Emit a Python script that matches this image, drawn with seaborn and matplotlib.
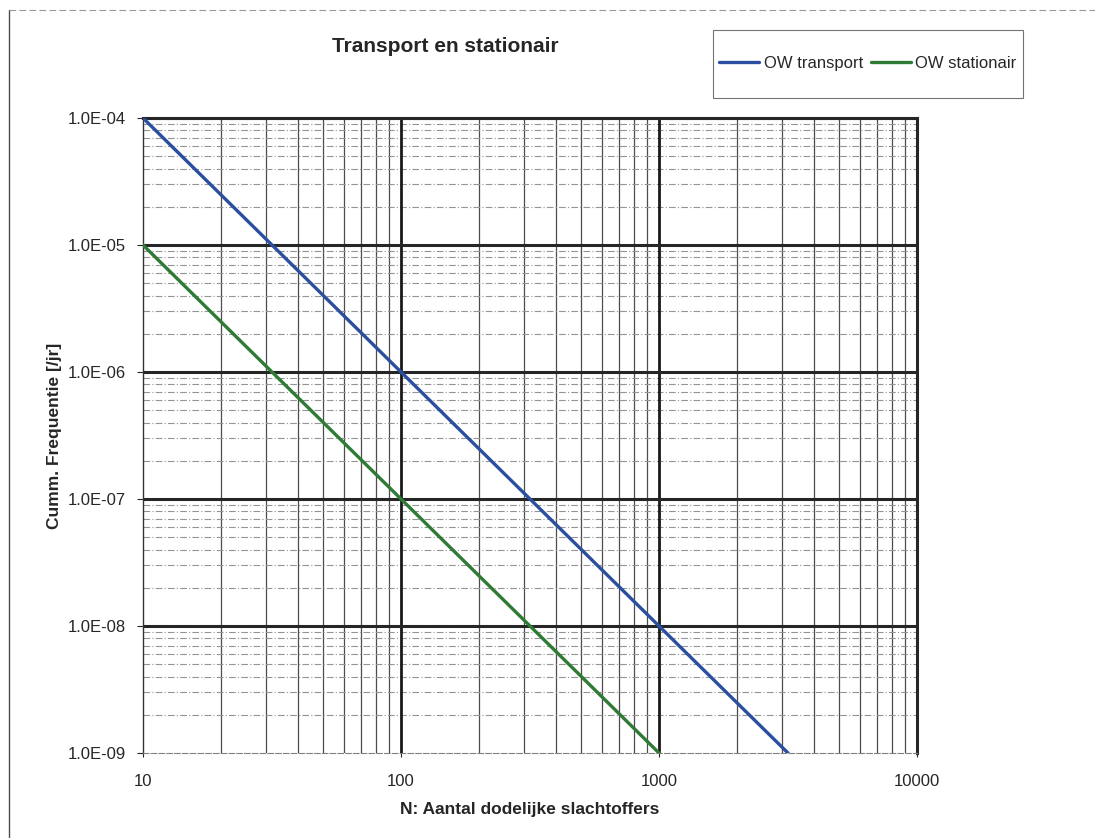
import numpy as np
import pandas as pd
import matplotlib
matplotlib.use("Agg")
import matplotlib.pyplot as plt
from matplotlib.patches import Rectangle
from matplotlib.lines import Line2D
from matplotlib.ticker import FixedLocator, NullFormatter
import seaborn as sns

# Data (end points of the straight lines on log-log axes)
n_transport = [10, 3162]
f_transport = [1e-4, 1e-9]
n_stationair = [10, 1000]
f_stationair = [1e-5, 1e-9]
series_names = ["OW transport", "OW stationair"]
series_colors = ["#2b4f9e", "#2f7a34"]

x_ticks = [10, 100, 1000, 10000]
x_tick_labels = ["10", "100", "1000", "10000"]
y_ticks = [1e-9, 1e-8, 1e-7, 1e-6, 1e-5, 1e-4]
y_tick_labels = ["1.0E-09", "1.0E-08", "1.0E-07", "1.0E-06", "1.0E-05", "1.0E-04"]

df = pd.concat([
    pd.DataFrame({"N": n_transport, "F": f_transport, "serie": series_names[0]}),
    pd.DataFrame({"N": n_stationair, "F": f_stationair, "serie": series_names[1]}),
])

sns.set_style("white")
plt.rcParams["font.family"] = ["Liberation Sans", "DejaVu Sans"]

W, H = 1095, 838
fig = plt.figure(figsize=(W / 100, H / 100), dpi=100)
ax = fig.add_axes([143 / W, 1 - 753 / H, (917 - 143) / W, (753 - 118) / H])

ax.set_xscale("log")
ax.set_yscale("log")
ax.set_xlim(10, 10000)
ax.set_ylim(1e-9, 1e-4)

# Minor grid: vertical solid, horizontal dashed
minor_x = [m * 10 ** e for e in range(1, 4) for m in range(2, 10)]
minor_y = [m * 10.0 ** e for e in range(-9, -4) for m in range(2, 10)]
for xv in minor_x:
    ax.axvline(xv, color="0.3", lw=0.9, zorder=1)
for yv in minor_y:
    ax.axhline(yv, color="0.58", lw=0.8, ls=(0, (6, 2, 1, 2)), zorder=1)
# Major grid: thick black
for xv in x_ticks[1:]:
    ax.axvline(xv, color="0.1", lw=2.0, zorder=1.5)
for yv in y_ticks[1:]:
    ax.axhline(yv, color="0.15", lw=2.2, zorder=1.5)

sns.lineplot(data=df, x="N", y="F", hue="serie", palette=series_colors,
             linewidth=2.4, legend=False, ax=ax, zorder=3)

ax.xaxis.set_major_locator(FixedLocator(x_ticks))
ax.set_xticklabels(x_tick_labels)
ax.yaxis.set_major_locator(FixedLocator(y_ticks))
ax.set_yticklabels(y_tick_labels)
ax.xaxis.set_minor_locator(FixedLocator([]))
ax.yaxis.set_minor_locator(FixedLocator([]))
ax.xaxis.set_minor_formatter(NullFormatter())
ax.yaxis.set_minor_formatter(NullFormatter())
ax.tick_params(axis="y", which="major", direction="out", length=4, width=0.8,
               pad=8, labelsize=12, colors="0.15", left=True)
ax.tick_params(axis="x", which="major", direction="out", length=3, width=0.8,
               pad=12, labelsize=12, colors="0.15", bottom=True)

ax.spines["left"].set_color("0.2")
ax.spines["left"].set_linewidth(1.0)
ax.spines["bottom"].set_color("0.5")
ax.spines["bottom"].set_linewidth(0.8)
ax.spines["bottom"].set_linestyle((0, (5, 2)))
ax.spines["top"].set_color("0.15")
ax.spines["top"].set_linewidth(2.2)
ax.spines["right"].set_color("0.15")
ax.spines["right"].set_linewidth(2.2)

ax.set_xlabel("N: Aantal dodelijke slachtoffers", fontsize=12.5, fontweight="bold", color="0.15")
ax.set_ylabel("Cumm. Frequentie [/jr]", fontsize=12.5, fontweight="bold", color="0.15")
ax.xaxis.set_label_coords(0.5, (753 - 802) / 635)
ax.yaxis.set_label_coords((62 - 143) / 774, 0.5)

fig.text(445 / W, 1 - 47 / H, "Transport en stationair", ha="center", va="center",
         fontsize=15, fontweight="bold", color="0.15")

# Legend in a separate box at the top right
handles = [Line2D([], [], color=c, lw=2.4) for c in series_colors]
fig.legend(handles, series_names, loc="center", ncol=2, frameon=False,
           bbox_to_anchor=((713 + 1023) / 2 / W, 1 - 63 / H),
           fontsize=12, handlelength=2.4, handletextpad=0.25, columnspacing=0.5)
fig.patches.append(Rectangle((713 / W, 1 - 98 / H), 310 / W, 68 / H,
                             transform=fig.transFigure, fill=False,
                             edgecolor="0.45", lw=0.8))

# Outer chart border (left and top)
fig.add_artist(Line2D([9 / W, 9 / W], [0, 1 - 10 / H], transform=fig.transFigure,
                      color="0.3", lw=1.0))
fig.add_artist(Line2D([9 / W, 1], [1 - 10 / H, 1 - 10 / H], transform=fig.transFigure,
                      color="0.6", lw=0.8, ls=(0, (6, 3))))

fig.savefig("out.png", dpi=100)
